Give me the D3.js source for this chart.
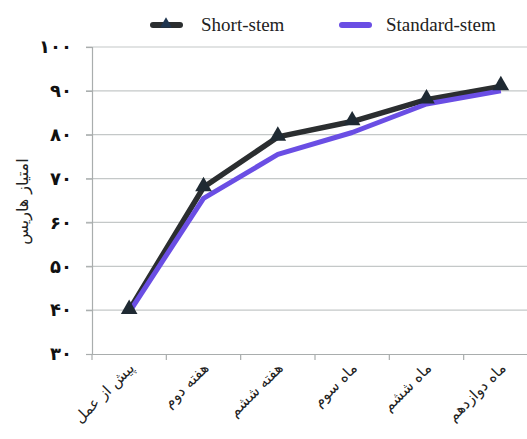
<!DOCTYPE html>
<html>
<head>
<meta charset="utf-8">
<script src="https://cdn.jsdelivr.net/npm/d3@7"></script>
<style>
  body { margin: 0; background: #fff; }
</style>
</head>
<body>
<svg id="chart" width="527" height="439"></svg>
<script>
const categories = ['پیش از عمل', 'هفته دوم', 'هفته ششم', 'ماه سوم', 'ماه ششم', 'ماه دوازدهم'];
const shortStem = [40, 68, 79.5, 83, 88, 91];
const standardStem = [39.5, 65.5, 75.5, 80.5, 87, 90];
const yTicks = [30, 40, 50, 60, 70, 80, 90, 100];
const yTickLabels = ['۳۰', '۴۰', '۵۰', '۶۰', '۷۰', '۸۰', '۹۰', '۱۰۰'];

const svg = d3.select('#chart');
const margin = { top: 47, right: -11, bottom: 85, left: 92 };
const width = 527;
const height = 439;

const x = d3.scaleBand()
    .domain(categories)
    .range([margin.left, width - margin.right]);

const y = d3.scaleLinear()
    .domain([30, 100])
    .range([height - margin.bottom, margin.top]);

// grid lines
svg.append('g')
    .selectAll('line')
    .data(yTicks.slice(1))
    .enter()
    .append('line')
    .attr('x1', margin.left - 6)
    .attr('x2', width)
    .attr('y1', d => y(d))
    .attr('y2', d => y(d))
    .attr('stroke', '#c4c8c8')
    .attr('stroke-width', 1.2);

// y axis
const yAxis = svg.append('g')
    .attr('transform', `translate(${margin.left},0)`)
    .call(d3.axisLeft(y).tickValues(yTicks).tickSize(6).tickPadding(14)
        .tickFormat((d, i) => yTickLabels[i]));
yAxis.select('.domain').attr('stroke', '#a9adad').attr('stroke-width', 1.2);
yAxis.selectAll('.tick line').attr('stroke', '#a9adad').attr('stroke-width', 1.2);
yAxis.selectAll('text')
    .attr('font-family', 'DejaVu Sans')
    .attr('font-size', 18)
    .attr('font-weight', 'bold')
    .attr('fill', '#111');

// x axis
const xAxis = svg.append('g')
    .attr('transform', `translate(0,${y(30)})`)
    .call(d3.axisBottom(x).tickSize(0).tickFormat(''));
xAxis.select('.domain').attr('stroke', '#a9adad').attr('stroke-width', 1.2);

svg.append('g')
    .selectAll('line')
    .data(categories)
    .enter()
    .append('line')
    .attr('x1', d => x(d))
    .attr('x2', d => x(d))
    .attr('y1', y(30))
    .attr('y2', y(30) + 6)
    .attr('stroke', '#a9adad')
    .attr('stroke-width', 1.2);

svg.append('g')
    .selectAll('text')
    .data(categories)
    .enter()
    .append('text')
    .attr('transform', d => `translate(${x(d) + x.bandwidth() / 2 + 6},${y(30) + 15}) rotate(-45)`)
    .attr('text-anchor', 'end')
    .attr('font-family', 'DejaVu Sans')
    .attr('font-size', 15)
    .attr('fill', '#222')
    .text(d => d);

// y axis title
svg.append('text')
    .attr('transform', `translate(28,${(y(30) + y(100)) / 2 + 1}) rotate(-90)`)
    .attr('text-anchor', 'middle')
    .attr('font-family', 'DejaVu Sans')
    .attr('font-size', 16)
    .attr('fill', '#222')
    .text('امتیاز هاریس');

const cx = d => x(d) + x.bandwidth() / 2;

const line = d3.line()
    .x(d => cx(d.category))
    .y(d => y(d.value));

const shortData = categories.map((c, i) => ({ category: c, value: shortStem[i] }));
const standardData = categories.map((c, i) => ({ category: c, value: standardStem[i] }));

svg.append('path')
    .datum(shortData)
    .attr('d', line)
    .attr('fill', 'none')
    .attr('stroke', '#2b2e30')
    .attr('stroke-width', 5.5)
    .attr('stroke-linejoin', 'round');

svg.append('path')
    .datum(standardData)
    .attr('d', line)
    .attr('fill', 'none')
    .attr('stroke', '#6a4ee4')
    .attr('stroke-width', 5)
    .attr('stroke-linejoin', 'round');

const tri = d3.symbol().type(d3.symbolTriangle).size(120);
const cross = d3.symbol().type(d3.symbolX).size(100);

svg.append('g')
    .selectAll('path')
    .data(shortData)
    .enter()
    .append('path')
    .attr('d', tri)
    .attr('transform', d => `translate(${cx(d.category)},${y(d.value) - 1})`)
    .attr('fill', '#1f2a33');

svg.append('g')
    .selectAll('path')
    .data(standardData)
    .enter()
    .append('path')
    .attr('d', cross)
    .attr('transform', d => `translate(${cx(d.category)},${y(d.value) + 2})`)
    .attr('fill', '#b9bbd6')
    .attr('opacity', 0.8);

// legend
const legendTri = d3.symbol().type(d3.symbolTriangle).size(60);
const legendCross = d3.symbol().type(d3.symbolX).size(70);
const legend = [
    { name: 'Short-stem', color: '#2b2e30', x: 151, tx: 50, marker: legendTri, mfill: '#1f3550' },
    { name: 'Standard-stem', color: '#6a4ee4', x: 340, tx: 46, marker: legendCross, mfill: '#b9bbd6' }
];

const lg = svg.append('g')
    .selectAll('g')
    .data(legend)
    .enter()
    .append('g')
    .attr('transform', d => `translate(${d.x},25)`);

lg.append('line')
    .attr('x1', 2)
    .attr('x2', 29)
    .attr('stroke', d => d.color)
    .attr('stroke-width', 6)
    .attr('stroke-linecap', 'round');

lg.append('path')
    .attr('d', d => d.marker())
    .attr('transform', 'translate(15,-1)')
    .attr('fill', d => d.mfill);

lg.append('text')
    .attr('x', d => d.tx)
    .attr('y', 6)
    .attr('font-family', "'Liberation Serif', 'Times New Roman', serif")
    .attr('font-size', 19)
    .attr('fill', '#222')
    .text(d => d.name);
</script>
</body>
</html>
